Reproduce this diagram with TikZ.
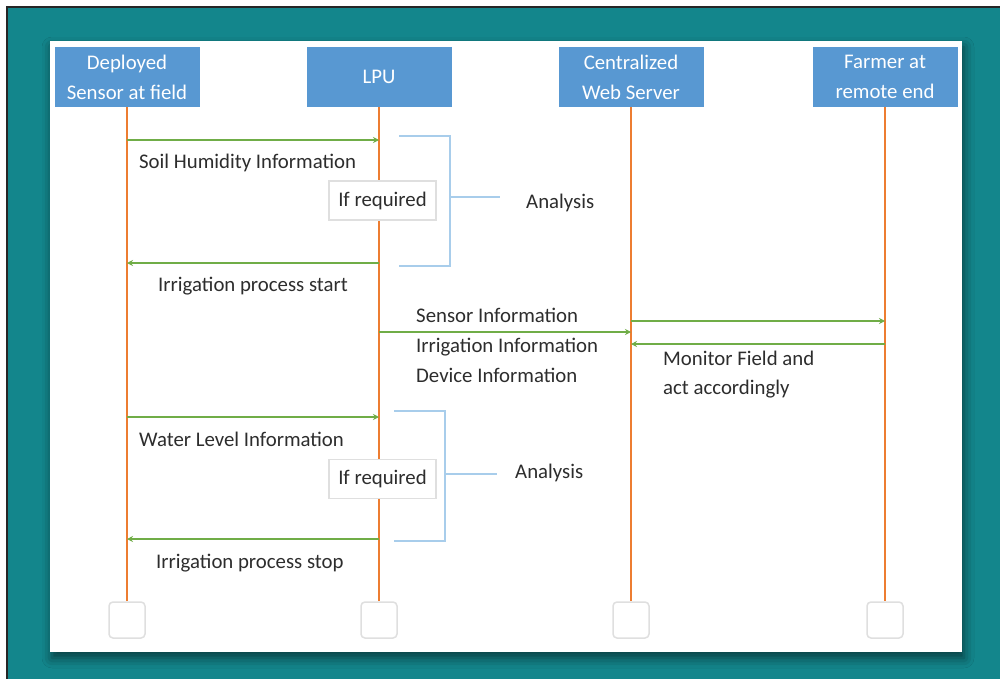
\documentclass[tikz,border=0pt]{standalone}
\usepackage{fontspec}
\setmainfont{Carlito}
\usetikzlibrary{arrows.meta,shadows.blur}
\definecolor{frameteal}{RGB}{19,134,140}
\definecolor{headblue}{RGB}{88,152,210}
\definecolor{lifeorange}{RGB}{237,125,49}
\definecolor{msggreen}{RGB}{112,173,71}
\definecolor{brackblue}{RGB}{168,205,235}
\definecolor{txtgray}{RGB}{45,45,45}
\begin{document}
\begin{tikzpicture}[x=1pt,y=-1pt,
  every node/.style={font=\fontsize{20.8}{30}\selectfont,text=txtgray},
  head/.style={fill=headblue,text=white,align=center,minimum width=145pt,minimum height=60pt,inner sep=0pt},
  endbox/.style={draw=gray!25,line width=1.5pt,fill=white,rounded corners=4pt,minimum size=36pt,inner sep=0pt},
  ifbox/.style={draw=gray!25,line width=1.5pt,fill=white,minimum width=107pt,minimum height=39pt,inner sep=0pt},
  life/.style={lifeorange,line width=2.8pt},
  msg/.style={msggreen,line width=2.8pt,-{Stealth[length=6pt,width=6pt]}},
  bracket/.style={brackblue,line width=1.6pt},
  lbl/.style={anchor=base west,inner sep=0pt}]
\useasboundingbox (0,0) rectangle (1000,678);
\clip (0,0) rectangle (1000,678);
\fill [white] (0,0) rectangle (1000,678);
\draw [fill=frameteal,draw=black!85,line width=2pt] (7,7) rectangle (1010,690);
\fill [white,blur shadow={shadow xshift=2pt,shadow yshift=-6pt,shadow blur radius=10pt,shadow opacity=55}] (50,41) rectangle (962,652);

\node [head] (dep) at (127,77) {Deployed\\Sensor at field};
\node [head] (lpu) at (379,77) {LPU};
\node [head] (web) at (631,77) {Centralized\\Web Server};
\node [head] (farm) at (885,77) {Farmer at\\remote end};

\node [endbox] (depend) at (127,620) {};
\node [endbox] (lpuend) at (379,620) {};
\node [endbox] (webend) at (631,620) {};
\node [endbox] (farmend) at (885,620) {};

\draw [life] (dep) -- (depend);
\draw [life] (lpu) -- (lpuend);
\draw [life] (web) -- (webend);
\draw [life] (farm) -- (farmend);

\draw [msg] (dep |- 0,140) -- (lpu |- 0,140);
\draw [msg] (lpu |- 0,263) -- (dep |- 0,263);
\draw [msg] (lpu |- 0,332) -- (web |- 0,332);
\draw [msg] (web |- 0,321) -- (farm |- 0,321);
\draw [msg] (farm |- 0,344) -- (web |- 0,344);
\draw [msg] (dep |- 0,417) -- (lpu |- 0,417);
\draw [msg] (lpu |- 0,539) -- (dep |- 0,539);

\draw [bracket] (399,136) -- (450,136) -- (450,266) -- (399,266);
\draw [bracket] (450,197) -- (500,197);
\draw [bracket] (394,411) -- (445,411) -- (445,541) -- (394,541);
\draw [bracket] (445,474) -- (497,474);

\node [ifbox] (req1) at (382.5,200.5) {If required};
\node [ifbox] (req2) at (382.5,479) {If required};

\node [lbl] (soil) at (139,168) {Soil Humidity Information};
\node [lbl] (start) at (158,291) {Irrigation process start};
\node [lbl] (info1) at (416,322) {Sensor Information};
\node [lbl] (info2) at (416,352) {Irrigation Information};
\node [lbl] (info3) at (416,382) {Device Information};
\node [lbl] (mon1) at (663,365) {Monitor Field and};
\node [lbl] (mon2) at (663,394) {act accordingly};
\node [lbl] (water) at (139,446) {Water Level Information};
\node [lbl] (stop) at (156,568) {Irrigation process stop};
\node [lbl] (ana1) at (526,208) {Analysis};
\node [lbl] (ana2) at (515,478) {Analysis};
\end{tikzpicture}
\end{document}
